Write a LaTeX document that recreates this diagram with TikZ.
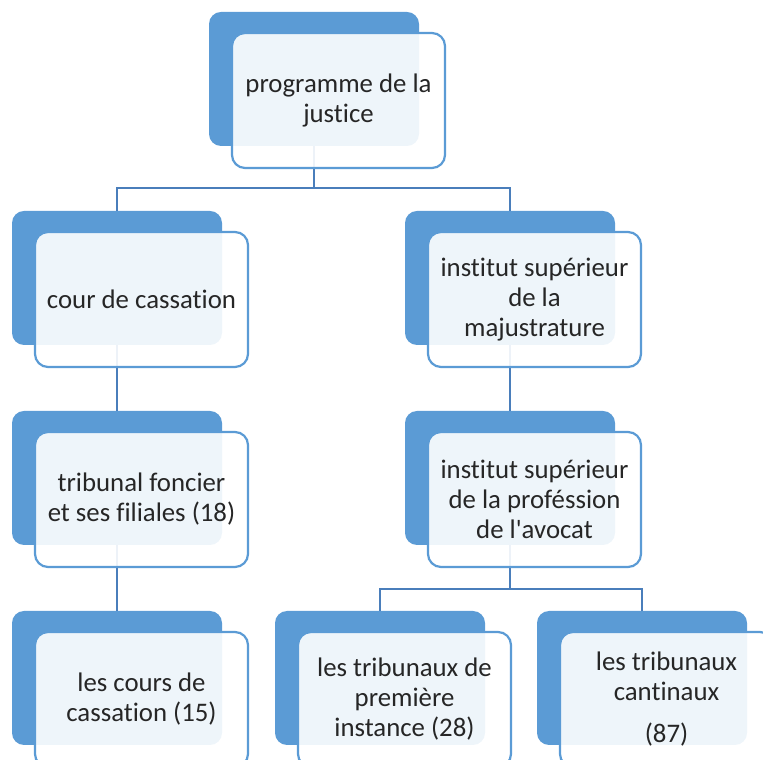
\documentclass[tikz,border=0pt]{standalone}
\usepackage{fontspec}
\setmainfont[Ligatures={NoCommon}]{Carlito}
\usetikzlibrary{positioning}
\definecolor{boxblue}{HTML}{5B9BD5}
\definecolor{linkblue}{HTML}{4A7EBB}

\begin{document}
\begin{tikzpicture}[x=1pt, y=1pt,
        back/.style={fill=boxblue, rounded corners=12pt, minimum width=210pt, minimum height=134pt, inner sep=0pt},
        front/.style={draw=boxblue, line width=2.2pt, fill=white, fill opacity=0.9, text opacity=1, rounded corners=13pt,
            minimum width=213pt, minimum height=135pt, inner sep=0pt, align=center, text=black!85,
            font=\fontsize{26.8}{30}\selectfont},
        link/.style={draw=linkblue, line width=2pt}]
        \useasboundingbox (0, 0) rectangle (763, 760);
        \clip (0, 0) rectangle (763, 760);

        % Back boxes
        \node[back] (prog) at (314, 681) {};
        \node[back] (cour) at (117, 482) {};
        \node[back] (inst) at (510, 482) {};
        \node[back] (trib) at (117, 282) {};
        \node[back] (prof) at (510, 282) {};
        \node[back] (cours) at (117, 82) {};
        \node[back] (prem) at (380, 82) {};
        \node[back] (cant) at (642, 82) {};

        % Links
        \draw[link] (prog.south) |- ([yshift=23pt]cour.north) -- (cour.north);
        \draw[link] (prog.south) |- ([yshift=23pt]inst.north) -- (inst.north);
        \draw[link] (cour.south) -- (trib.north);
        \draw[link] (trib.south) -- (cours.north);
        \draw[link] (inst.south) -- (prof.north);
        \draw[link] (prof.south) |- ([yshift=22pt]prem.north) -- (prem.north);
        \draw[link] (prof.south) |- ([yshift=22pt]cant.north) -- (cant.north);

        % Front boxes
        \node[front] (prog-f) at ([shift={(24.5,-21.5)}]prog) {programme de la\\justice};
        \node[front] (cour-f) at ([shift={(24.5,-21.5)}]cour) {cour de cassation};
        \node[front] (inst-f) at ([shift={(24.5,-21.5)}]inst) {institut supérieur\\de la\\majustrature};
        \node[front] (trib-f) at ([shift={(24.5,-21.5)}]trib) {tribunal foncier\\et ses filiales (18)};
        \node[front] (prof-f) at ([shift={(24.5,-21.5)}]prof) {institut supérieur\\de la proféssion\\de l\textquotesingle avocat};
        \node[front] (cours-f) at ([shift={(24.5,-21.5)}]cours) {les cours de\\cassation (15)};
        \node[front] (prem-f) at ([shift={(24.5,-21.5)}]prem) {les tribunaux de\\première\\instance (28)};
        \node[front] (cant-f) at ([shift={(24.5,-21.5)}]cant) {les tribunaux\\cantinaux\\[12pt](87)};

    \end{tikzpicture}
\end{document}
